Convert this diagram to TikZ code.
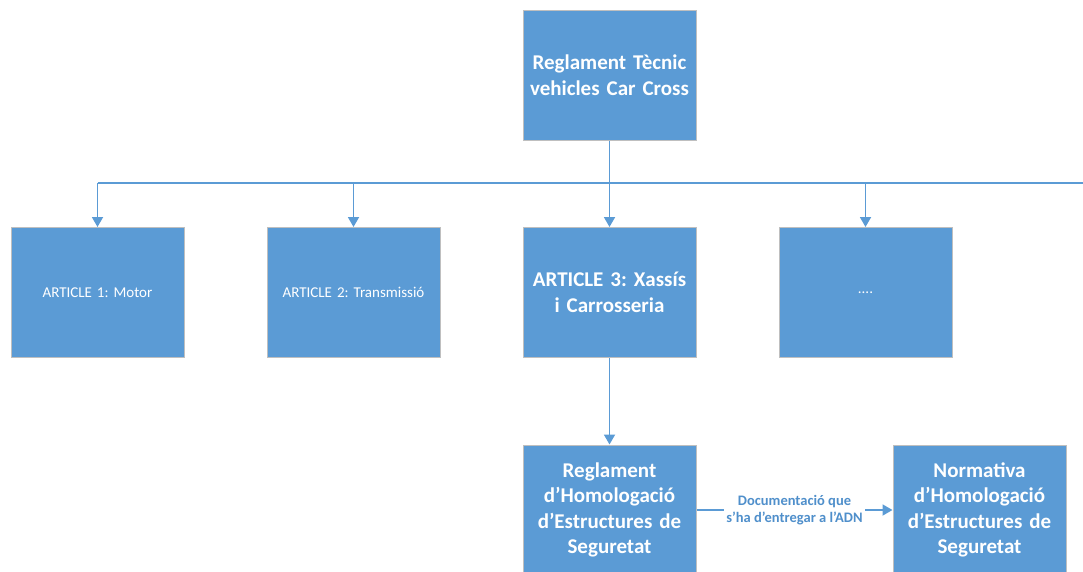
\documentclass[tikz,border=0pt]{standalone}
\usepackage{fontspec}
\setmainfont{Carlito}
\usetikzlibrary{arrows.meta}
\definecolor{boxblue}{HTML}{5B9BD5}
\definecolor{boxedge}{HTML}{BFBFBF}
\definecolor{lbltext}{HTML}{4F8FCB}
\frenchspacing
\begin{document}
\begin{tikzpicture}[x=1pt,y=-1pt,
  box/.style={draw=boxedge, line width=1pt, fill=boxblue, text=white,
    minimum width=173pt, minimum height=130pt, inner sep=4pt,
    align=center, text width=160pt},
  bigtxt/.style={font=\fontsize{21}{25.5}\selectfont\bfseries},
  smalltxt/.style={font=\fontsize{15}{18}\selectfont},
  link/.style={draw=boxblue, line width=1.8pt},
  arr/.style={link, -{Triangle[width=11pt,length=10pt]}},
  lbl/.style={fill=white, text=lbltext, align=center, inner xsep=2pt,
    font=\fontsize{14.5}{17.5}\selectfont\bfseries}]
  \useasboundingbox (0,0) rectangle (1083,571);
  \clip (0,0) rectangle (1083,571);

  % top-level regulation
  \node[box, bigtxt] (top) at (609.5,75) {Reglament Tècnic\\vehicles Car Cross};

  % articles
  \node[box, smalltxt] (a1) at (97.5,292.5) {ARTICLE 1: Motor};
  \node[box, smalltxt] (a2) at (353.5,292.5) {ARTICLE 2: Transmissió};
  \node[box, bigtxt]   (a3) at (609.5,292.5) {ARTICLE 3: Xassís\\i Carrosseria};
  \node[box, smalltxt] (a4) at (865.5,292.5) {....};

  % homologation documents
  \node[box, bigtxt] (h1) at (609.5,510) {Reglament\\d’Homologació\\d’Estructures de\\Seguretat};
  \node[box, bigtxt] (h2) at (979.5,510) {Normativa\\d’Homologació\\d’Estructures de\\Seguretat};

  % distribution bus
  \coordinate (busL) at (97.5,183);
  \coordinate (busR) at (1083,183);
  \draw[link] (busL) -- (busR);
  \draw[arr] (top.south) -- (a3.north);
  \draw[arr] (a1.north |- busL) -- (a1.north);
  \draw[arr] (a2.north |- busL) -- (a2.north);
  \draw[arr] (a4.north |- busL) -- (a4.north);

  \draw[arr] (a3.south) -- (h1.north);
  \draw[arr] (h1.east) -- node[lbl] {Documentació que\\s’ha d’entregar a l’ADN} (h2.west);
\end{tikzpicture}
\end{document}
